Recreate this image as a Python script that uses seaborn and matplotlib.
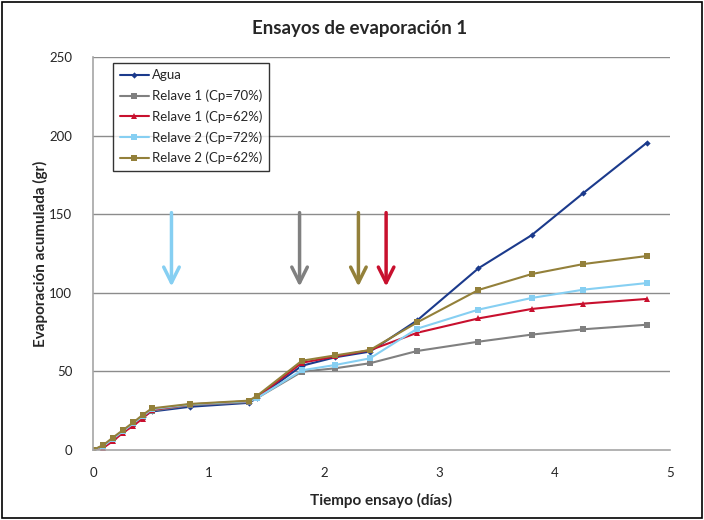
import matplotlib
matplotlib.use("Agg")
import matplotlib.pyplot as plt
import seaborn as sns
import pandas as pd
from matplotlib.patches import Rectangle

# ---- data ----
dias = [0, 0.09, 0.17, 0.26, 0.35, 0.43, 0.51, 0.84, 1.35, 1.42, 1.81, 2.10, 2.40, 2.81, 3.34, 3.80, 4.25, 4.80]
agua = [0, 2.5, 7, 12, 16.5, 21, 24.5, 27.5, 30, 33, 53.6, 59, 62.6, 82.5, 115.6, 136.6, 163.5, 195.5]
relave1_70 = [0, 2.5, 7, 12, 16.5, 21, 25, 28.5, 30.5, 33, 49.8, 52, 55.2, 63, 68.9, 73.4, 76.8, 79.7]
relave1_62 = [0, 1.5, 5.5, 11, 15.5, 20, 25.5, 29, 31, 33.5, 55.5, 59.5, 63.5, 74.6, 83.7, 89.7, 93.1, 96.1]
relave2_72 = [0, 2.5, 7, 12, 17, 21.5, 26, 29, 31, 33, 50.7, 54.1, 58.3, 77.2, 89.3, 96.7, 102, 106.2]
relave2_62 = [0, 3.2, 7.8, 12.7, 17.6, 22.3, 26.5, 29.3, 31.4, 34.4, 56.8, 60.2, 63.6, 81.2, 101.8, 111.9, 118.3, 123.4]

series_names = ["Agua", "Relave 1 (Cp=70%)", "Relave 1 (Cp=62%)", "Relave 2 (Cp=72%)", "Relave 2 (Cp=62%)"]
series_values = [agua, relave1_70, relave1_62, relave2_72, relave2_62]
colors = ["#1B3A8C", "#808080", "#C8102E", "#86CFF2", "#93803A"]
markers = ["D", "s", "^", "s", "s"]
marker_sizes = [3.2, 4, 4, 4, 4]

# arrows (x position, from y, to y)
arrow_x = [0.68, 1.79, 2.30, 2.54]
arrow_colors = ["#86CFF2", "#808080", "#93803A", "#C8102E"]
arrow_top = 151
arrow_tip = 104

x_ticks = [0, 1, 2, 3, 4, 5]
y_ticks = [0, 50, 100, 150, 200, 250]

# ---- plot ----
sns.set_theme(style="white")
plt.rcParams["font.family"] = ["Lato", "DejaVu Sans"]

fig = plt.figure(figsize=(7.04, 5.2), dpi=100)
ax = fig.add_axes([0.1321, 0.1346, 0.8196, 0.7558])

for name, vals, c, m, ms in zip(series_names, series_values, colors, markers, marker_sizes):
    df = pd.DataFrame({"x": dias, "y": vals})
    sns.lineplot(data=df, x="x", y="y", ax=ax, color=c, marker=m, markersize=ms,
                 markeredgewidth=0, linewidth=1.5, label=name, sort=False)

for xa, ca in zip(arrow_x, arrow_colors):
    ax.annotate("", xy=(xa, arrow_tip), xytext=(xa, arrow_top),
                arrowprops=dict(arrowstyle="->", color=ca, lw=2.5, mutation_scale=28,
                                shrinkA=0, shrinkB=0))

ax.set_xlim(0, 5)
ax.set_ylim(0, 250)
ax.set_xticks(x_ticks)
ax.set_yticks(y_ticks)
ax.tick_params(axis="both", labelsize=9.5, length=0, pad=12)
ax.tick_params(axis="y", pad=15)
for yt in y_ticks[1:]:
    ax.axhline(yt, color="#8c8c8c", lw=1.0, zorder=0)
for s in ["top", "right"]:
    ax.spines[s].set_visible(False)
for s in ["left", "bottom"]:
    ax.spines[s].set_color("#a6a6a6")
    ax.spines[s].set_linewidth(1.2)

ax.set_xlabel("Tiempo ensayo (días)", fontsize=11, fontweight="bold", labelpad=10)
ax.set_ylabel("Evaporación acumulada (gr)", fontsize=11, fontweight="bold", labelpad=1)
fig.text(0.511, 0.946, "Ensayos de evaporación 1", fontsize=13.5, fontweight="bold",
         ha="center", va="center")

leg = ax.legend(loc="upper left", bbox_to_anchor=(0.035, 0.985), fontsize=9.5,
                frameon=True, fancybox=False, edgecolor="black", handlelength=2.2,
                handletextpad=0.25, borderpad=0.5, labelspacing=0.62, borderaxespad=0)
leg.get_frame().set_linewidth(1.0)

fig.patches.append(Rectangle((0.003, 0.003), 0.994, 0.994, transform=fig.transFigure,
                             fill=False, edgecolor="black", lw=1.2))

fig.savefig("out.png", dpi=100)
